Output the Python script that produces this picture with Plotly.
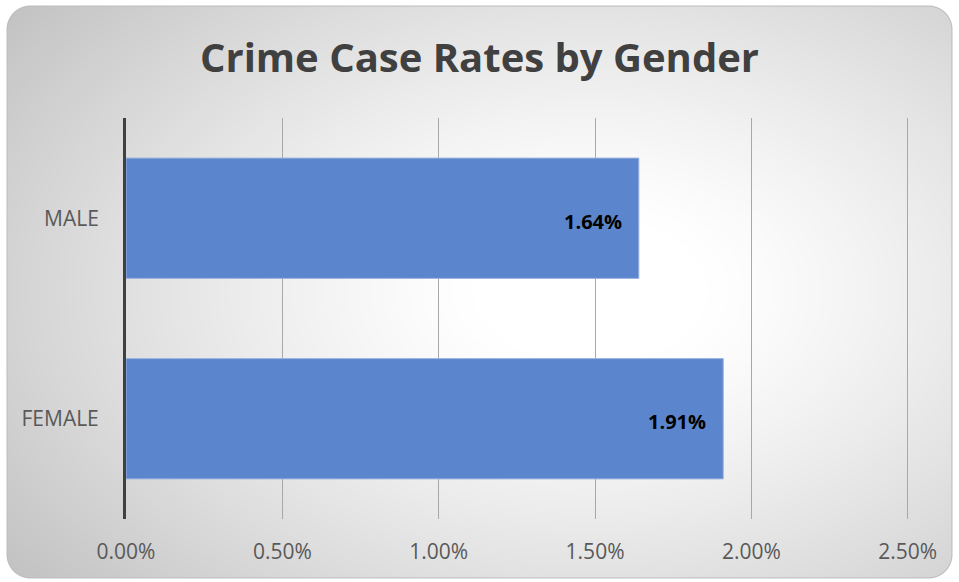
import base64
import struct
import zlib

import numpy as np
import plotly.graph_objects as go

categories = ["FEMALE", "MALE"]
rates = [1.91, 1.64]
tick_vals = [0.0, 0.5, 1.0, 1.5, 2.0, 2.5]
tick_text = ["0.00%", "0.50%", "1.00%", "1.50%", "2.00%", "2.50%"]

W, H = 959, 582
L, R, T, B = 126, 45, 118, 63
x_max = 2.52  # a little room past 2.5 so its gridline is drawn


def png_uri(rgba):
    h, w, _ = rgba.shape
    raw = b"".join(b"\x00" + rgba[i].tobytes() for i in range(h))

    def chunk(tag, data):
        c = tag + data
        return struct.pack(">I", len(data)) + c + struct.pack(">I", zlib.crc32(c) & 0xffffffff)

    png = b"\x89PNG\r\n\x1a\n"
    png += chunk(b"IHDR", struct.pack(">IIBBBBB", w, h, 8, 6, 0, 0, 0))
    png += chunk(b"IDAT", zlib.compress(raw, 9))
    png += chunk(b"IEND", b"")
    return "data:image/png;base64," + base64.b64encode(png).decode()


# radial grey background inside a rounded frame
bx0, by0, bx1, by1, rad = 6, 5, 952, 578, 24
yy, xx = np.mgrid[0:H, 0:W].astype(float)
cx, cy = 590, 290
d = np.sqrt(((xx - cx) / 470) ** 2 + ((yy - cy) / 300) ** 2)
g = 255 - 44 * np.clip(d - 0.25, 0, None) ** 1.2
g = np.clip(g, 188, 255)

hx, hy = (bx1 - bx0) / 2, (by1 - by0) / 2
qx = np.abs(xx - (bx0 + hx)) - (hx - rad)
qy = np.abs(yy - (by0 + hy)) - (hy - rad)
sdf = np.sqrt(np.clip(qx, 0, None) ** 2 + np.clip(qy, 0, None) ** 2) + np.minimum(np.maximum(qx, qy), 0) - rad
alpha = np.clip(0.5 - sdf, 0, 1)
edge = np.clip(sdf + 1.6, 0, 1)
g = g * (1 - edge) + 190 * edge

img = np.zeros((H, W, 4), dtype=np.uint8)
img[..., 0] = g
img[..., 1] = g
img[..., 2] = g
img[..., 3] = alpha * 255
bg_uri = png_uri(img)

pw, ph = W - L - R, H - T - B

fig = go.Figure()
fig.add_trace(go.Bar(
    y=categories, x=rates, orientation="h", width=0.6,
    marker=dict(color="#5B86CD", line=dict(color="#9db3e0", width=1)),
    hoverinfo="skip",
))

for c, v in zip(categories, rates):
    fig.add_annotation(x=v, y=c, text="<b>%.2f%%</b>" % v, showarrow=False,
                       xanchor="right", xshift=-15, yshift=-3,
                       font=dict(size=20, color="#000000", family="Open Sans"))

fig.add_layout_image(dict(
    source=bg_uri, xref="paper", yref="paper",
    x=-L / pw, y=1 + T / ph, sizex=W / pw, sizey=H / ph,
    xanchor="left", yanchor="top", sizing="stretch", layer="below",
))

fig.update_layout(
    width=W, height=H,
    margin=dict(l=L, r=R, t=T, b=B),
    paper_bgcolor="white", plot_bgcolor="rgba(0,0,0,0)",
    title=dict(text="<b>Crime Case Rates by Gender</b>", x=0.5, xref="container",
               y=1 - 58 / H, yanchor="middle",
               font=dict(size=40, color="#404040", family="Open Sans")),
    showlegend=False,
    font=dict(family="Open Sans", color="#595959", size=21),
)
fig.update_xaxes(range=[0, x_max], tickvals=tick_vals, ticktext=tick_text,
                 showgrid=True, gridcolor="#a8a8a8", gridwidth=1,
                 zeroline=False, showline=False, ticks="",
                 ticklabelstandoff=18, fixedrange=True)
fig.update_yaxes(range=[-0.5, 1.5], showgrid=False, zeroline=False,
                 showline=True, linecolor="#404040", linewidth=3,
                 ticks="", ticklabelstandoff=20, fixedrange=True)

fig.write_html("out.html", config={"displayModeBar": False},
               post_script="document.body.style.margin='0';")
